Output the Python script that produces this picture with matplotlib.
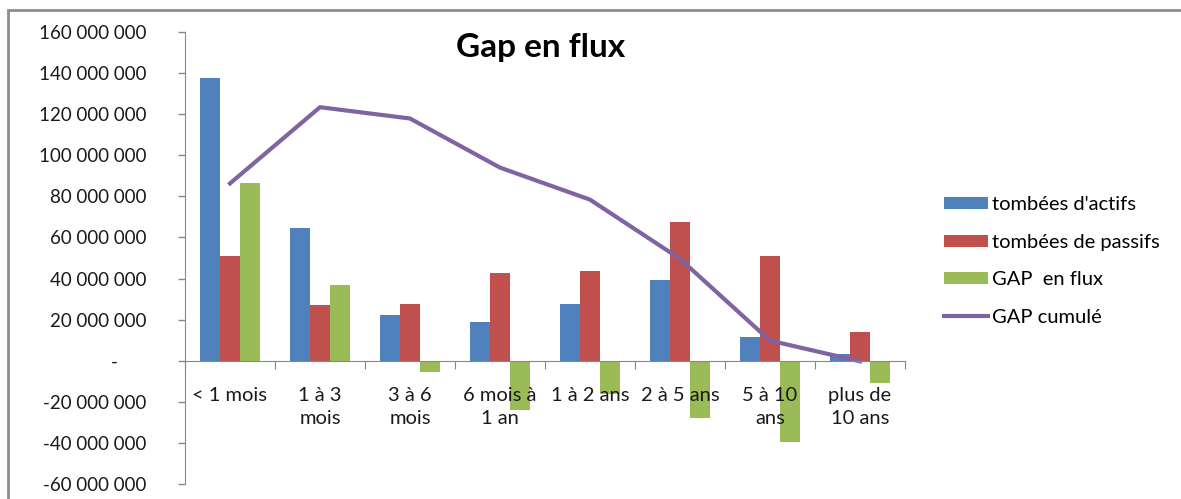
import matplotlib.pyplot as plt
import numpy as np
from matplotlib.patches import Rectangle
from matplotlib.ticker import FuncFormatter, FixedLocator

plt.rcParams["font.family"] = ["Lato", "DejaVu Sans"]

categories = ["< 1 mois", "1 à 3\nmois", "3 à 6\nmois", "6 mois à\n1 an", "1 à 2 ans",
              "2 à 5 ans", "5 à 10\nans", "plus de\n10 ans"]
actifs = [137.6e6, 64.4e6, 22.3e6, 19.0e6, 27.6e6, 39.5e6, 11.7e6, 3.3e6]
passifs = [51.2e6, 27.2e6, 27.6e6, 42.6e6, 43.6e6, 67.5e6, 51.2e6, 14.1e6]
gap_flux = [86.3e6, 36.7e6, -5.7e6, -23.9e6, -16.0e6, -28.1e6, -39.8e6, -10.9e6]
gap_cumule = [86.3e6, 123.4e6, 117.9e6, 94.0e6, 78.4e6, 49.6e6, 9.8e6, -0.3e6]

blue = "#4F81BD"
red = "#C0504D"
green = "#9BBB59"
purple = "#8064A2"
gray = "#888888"

fig = plt.figure(figsize=(11.81, 4.99), dpi=100)
ax = fig.add_axes([185 / 1181, 1 - 484 / 499, 720 / 1181, (484 - 32) / 499])

# outer chart frame (cut at right and bottom like the screenshot)
fig.add_artist(Rectangle((8 / 1181, -0.1), 1.2, 1 - 10 / 499 + 0.1, transform=fig.transFigure,
                         fill=False, edgecolor="#8c8c8c", linewidth=2))

x = np.arange(len(categories))
w = 0.22
b1 = ax.bar(x - w, actifs, w, color=blue, label="tombées d'actifs")
b2 = ax.bar(x, passifs, w, color=red, label="tombées de passifs")
b3 = ax.bar(x + w, gap_flux, w, color=green, label="GAP  en flux")
l1, = ax.plot(x, gap_cumule, color=purple, linewidth=3, label="GAP cumulé")

ax.set_xlim(-0.5, len(categories) - 0.5)
ax.set_ylim(-60e6, 160e6)
ax.set_yticks(np.arange(-60e6, 160e6 + 1, 20e6))


def fmt(v, pos):
    if abs(v) < 1:
        return "-      "
    return f"{int(round(v)):,}".replace(",", " ")


ax.yaxis.set_major_formatter(FuncFormatter(fmt))
ax.tick_params(axis="y", length=5, width=1, color=gray, pad=23, labelsize=13.5, labelcolor="#1a1a1a")

for s in ["top", "right"]:
    ax.spines[s].set_visible(False)
ax.spines["left"].set_color(gray)
ax.spines["bottom"].set_color(gray)
ax.spines["bottom"].set_position(("data", 0))

ax.xaxis.set_major_locator(FixedLocator(np.arange(len(categories) + 1) - 0.5))
ax.xaxis.set_major_formatter(FuncFormatter(lambda v, p: ""))
ax.xaxis.set_minor_locator(FixedLocator(x))
ax.set_xticklabels(categories, minor=True)
ax.tick_params(axis="x", which="major", length=6, color=gray, direction="out")
ax.tick_params(axis="x", which="minor", length=0, pad=19, labelsize=14.5, labelcolor="#1a1a1a")
for lab in ax.get_xticklabels(minor=True):
    lab.set_linespacing(1.4)

fig.text(541 / 1181, 1 - 48 / 499, "Gap en flux", ha="center", va="center",
         fontsize=24, fontweight="bold")

ax.legend([b1, b2, b3, l1], [b1.get_label(), b2.get_label(), b3.get_label(), l1.get_label()],
          loc="center left", bbox_to_anchor=(926 / 1181, 1 - 261 / 499), bbox_transform=fig.transFigure,
          frameon=False, fontsize=14.5, handlelength=2.2, handleheight=0.55, labelspacing=1.02,
          handletextpad=0.2)

fig.savefig("out.png", dpi=100)
